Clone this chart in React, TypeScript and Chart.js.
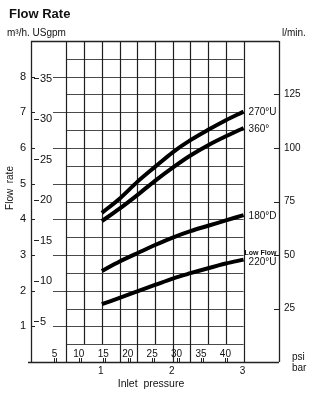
import React, { useEffect, useRef } from 'react';
import { Chart, registerables } from 'chart.js';

Chart.register(...registerables);

// ---- data (inlet pressure in bar, flow rate in m³/h) ----
const pressureBar = [1.0, 1.25, 1.5, 1.75, 2.0, 2.25, 2.5, 2.75, 3.0];
const flow270U = [4.18, 4.58, 5.05, 5.47, 5.88, 6.22, 6.51, 6.78, 7.02];
const flow360 = [3.95, 4.3, 4.68, 5.08, 5.45, 5.79, 6.08, 6.33, 6.56];
const flow180D = [2.55, 2.82, 3.05, 3.28, 3.49, 3.67, 3.82, 3.97, 4.12];
const flow220U = [1.62, 1.8, 1.98, 2.16, 2.34, 2.49, 2.63, 2.76, 2.87];

const seriesNames = ['270°U', '360°', '180°D', '220°U'];
const lowFlowNote = 'Low Flow';

// ---- tick labels ----
const m3hTicks = [1, 2, 3, 4, 5, 6, 7, 8];
const usgpmTicks = [5, 10, 15, 20, 25, 30, 35];
const lminTicks = [25, 50, 75, 100, 125];
const psiTicks = [5, 10, 15, 20, 25, 30, 35, 40];
const barTicks = [1, 2, 3];

// ---- grid positions (bar / m³/h) ----
const gridBarFull = [0.5, 1.25, 1.5, 2.0, 2.25, 3.0];
const gridBarShort = [0.75, 1.0, 1.75, 2.5, 2.75];
const gridFlowMajor = [1, 2, 3, 4, 5, 6, 7, 8];
const gridFlowMinor = [0.5, 1.5, 2.5, 3.5, 4.5, 5.5, 6.5, 7.5, 8.5];

// unit conversions
const USGPM_TO_M3H = 0.2271247;
const LMIN_TO_M3H = 0.06;
const PSI_PER_BAR = 14.5038;

const FONT = "'Liberation Sans', Arial, Helvetica, sans-serif";

const px = (v: number) => Math.round(v) + 0.5;

const engineeringPlugin = {
  id: 'engineeringGrid',
  beforeDatasetsDraw(chart: any) {
    const { ctx, scales } = chart;
    const X = (v: number) => scales.x.getPixelForValue(v);
    const Y = (v: number) => scales.y.getPixelForValue(v);
    const seg = (x1: number, y1: number, x2: number, y2: number) => {
      ctx.beginPath();
      ctx.moveTo(x1, y1);
      ctx.lineTo(x2, y2);
      ctx.stroke();
    };
    ctx.save();
    // horizontal grid
    ctx.strokeStyle = '#4a4a4a';
    ctx.lineWidth = 1;
    gridFlowMajor.forEach((v) => seg(X(0.31), px(Y(v)), X(3), px(Y(v))));
    gridFlowMinor.forEach((v) => seg(X(0.5), px(Y(v)), X(3), px(Y(v))));
    // vertical grid
    ctx.strokeStyle = '#1e1e1e';
    ctx.lineWidth = 1.2;
    gridBarFull.forEach((b) => seg(px(X(b)), Y(9), px(X(b)), Y(0)));
    gridBarShort.forEach((b) => seg(px(X(b)), Y(9), px(X(b)), Y(0.5)));
    // frame
    ctx.strokeStyle = '#222';
    ctx.lineWidth = 1.3;
    seg(px(X(0)), Y(9), px(X(0)), Y(0) + 1);
    seg(X(0), px(Y(9)), X(3.5), px(Y(9)));
    seg(px(X(3.5)), Y(9), px(X(3.5)), Y(0));
    seg(X(0) - 3, px(Y(0)), X(3.5), px(Y(0)));
    // left ticks
    ctx.lineWidth = 1;
    m3hTicks.forEach((v) => seg(X(0), px(Y(v)), X(0) + 4, px(Y(v))));
    usgpmTicks.forEach((v) => {
      const yy = px(Y(v * USGPM_TO_M3H));
      seg(X(0) + 3, yy, X(0) + 8, yy);
    });
    // right ticks
    lminTicks.forEach((v) => {
      const yy = px(Y(v * LMIN_TO_M3H));
      seg(X(3.5) - 5, yy, X(3.5), yy);
    });
    // psi ticks
    psiTicks.forEach((p) => {
      const xx = X(p / PSI_PER_BAR);
      seg(px(xx - 1), Y(0) - 4, px(xx - 1), Y(0));
      seg(px(xx + 1), Y(0) - 4, px(xx + 1), Y(0));
    });
    ctx.restore();
  },
  afterDatasetsDraw(chart: any) {
    const { ctx, scales } = chart;
    const X = (v: number) => scales.x.getPixelForValue(v);
    const Y = (v: number) => scales.y.getPixelForValue(v);
    ctx.save();
    ctx.fillStyle = '#111';
    ctx.textBaseline = 'middle';

    // title
    ctx.font = `bold 13px ${FONT}`;
    ctx.textAlign = 'left';
    ctx.textBaseline = 'alphabetic';
    ctx.fillText('Flow Rate', 9, 18);
    ctx.textBaseline = 'middle';

    // unit headers
    ctx.font = `10px ${FONT}`;
    ctx.fillText('m³/h. USgpm', 7, 33);
    ctx.fillText('l/min.', 282, 33);

    // m³/h labels
    ctx.font = `11px ${FONT}`;
    ctx.textAlign = 'center';
    m3hTicks.forEach((v) => ctx.fillText(String(v), X(0) - 8, Y(v)));
    // USgpm labels
    ctx.textAlign = 'left';
    usgpmTicks.forEach((v) => ctx.fillText(String(v), X(0) + 9, Y(v * USGPM_TO_M3H)));
    // l/min labels
    ctx.font = `10px ${FONT}`;
    lminTicks.forEach((v) => ctx.fillText(String(v), X(3.5) + 5, Y(v * LMIN_TO_M3H)));

    // psi labels
    ctx.textAlign = 'center';
    psiTicks.forEach((p) => ctx.fillText(String(p), X(p / PSI_PER_BAR) - 1, Y(0) - 8));
    // bar labels
    barTicks.forEach((b) => ctx.fillText(String(b), X(b) - 1, Y(0) + 9));
    ctx.textAlign = 'left';
    ctx.fillText('psi', X(3.5) + 13, Y(0) - 5);
    ctx.fillText('bar', X(3.5) + 13, Y(0) + 6);

    // axis titles
    ctx.textAlign = 'center';
    ctx.font = `10.5px ${FONT}`;
    ctx.fillText('Inlet  pressure', 151, 384);
    ctx.save();
    ctx.translate(10, 188);
    ctx.rotate(-Math.PI / 2);
    ctx.font = `10px ${FONT}`;
    ctx.fillText('Flow  rate', 0, 0);
    ctx.restore();

    // curve labels
    ctx.textAlign = 'left';
    ctx.font = `10px ${FONT}`;
    const last = pressureBar.length - 1;
    const ends = [flow270U[last], flow360[last], flow180D[last], flow220U[last]];
    ctx.fillText(seriesNames[0], X(3) + 5, Y(ends[0]) + 1);
    ctx.fillText(seriesNames[1], X(3) + 5, Y(ends[1]) + 1);
    ctx.fillText(seriesNames[2], X(3) + 5, Y(ends[2]) + 1);
    ctx.fillText(seriesNames[3], X(3) + 5, Y(ends[3]) + 3);
    ctx.font = `bold 7px ${FONT}`;
    ctx.fillText(lowFlowNote, X(3) + 1, Y(ends[3]) - 7);
    ctx.restore();
  },
};

export default function App() {
  const canvasRef = useRef<HTMLCanvasElement | null>(null);

  useEffect(() => {
    if (!canvasRef.current) return;
    const mk = (vals: number[]) => pressureBar.map((b, i) => ({ x: b, y: vals[i] }));
    const chart = new Chart(canvasRef.current, {
      type: 'line',
      data: {
        datasets: [flow270U, flow360, flow180D, flow220U].map((vals, i) => ({
          label: seriesNames[i],
          data: mk(vals),
          borderColor: '#000',
          borderWidth: 4,
          pointRadius: 0,
          cubicInterpolationMode: 'monotone' as const,
          fill: false,
        })),
      },
      options: {
        animation: false,
        responsive: true,
        maintainAspectRatio: false,
        devicePixelRatio: 1,
        layout: { padding: { left: 31, right: 42, top: 41, bottom: 38 } },
        scales: {
          x: { type: 'linear', min: 0, max: 3.5, display: false },
          y: { type: 'linear', min: 0, max: 9, display: false },
        },
        plugins: { legend: { display: false }, tooltip: { enabled: false } },
      },
      plugins: [engineeringPlugin],
    });
    return () => chart.destroy();
  }, []);

  return (
    <div style={{ position: 'absolute', left: 0, top: 0, width: 321, height: 400, background: '#fff' }}>
      <canvas ref={canvasRef} />
    </div>
  );
}
